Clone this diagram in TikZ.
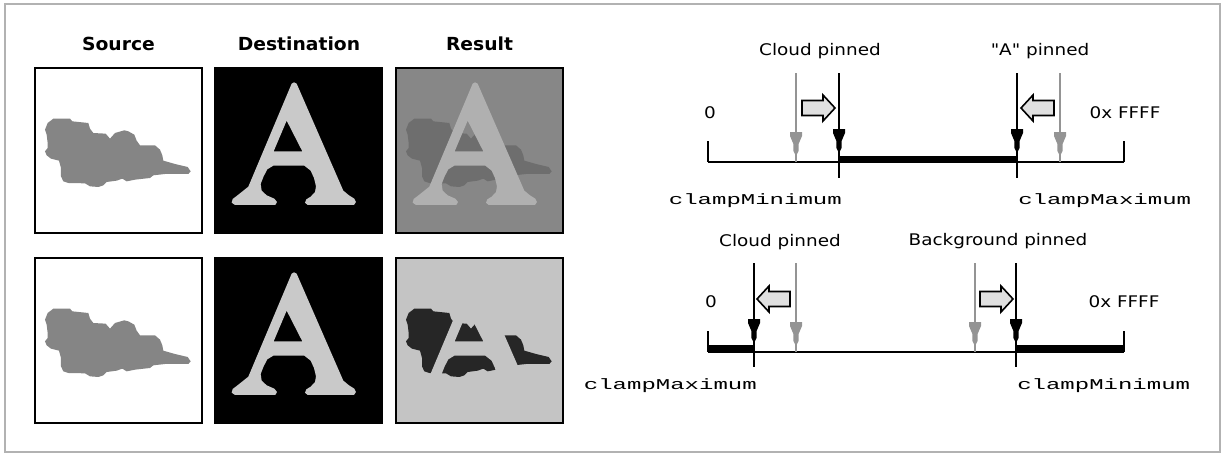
\documentclass[tikz,border=0pt]{standalone}
\usepackage{fontspec}
\usepackage{graphicx}
\newfontfamily\labelfont{DejaVu Sans}
\newfontfamily\codefont{Liberation Mono}
\newcommand\stretchsans[1]{\scalebox{1.15}[1]{#1}}
\newcommand\stretchcode[1]{\scalebox{1.6}[1]{#1}}
\newcommand\stretchhead[1]{\scalebox{1.04}[1]{#1}}

\definecolor{framegray}{gray}{0.70}
\definecolor{cloudgray}{gray}{0.52}
\definecolor{glyphgray}{gray}{0.79}
\definecolor{mixbg}{gray}{0.53}
\definecolor{mixcloud}{gray}{0.43}
\definecolor{mixglyph}{gray}{0.69}
\definecolor{lightbg}{gray}{0.77}
\definecolor{darkcloud}{gray}{0.15}
\definecolor{pingray}{gray}{0.58}
\definecolor{blockfill}{gray}{0.88}

\tikzset{
  panel/.style={draw=black, line width=1.5pt},
  head/.style={font=\labelfont\bfseries\fontsize{13.5}{16}\selectfont, inner sep=0pt},
  lbl/.style={font=\labelfont\fontsize{12}{14}\selectfont, inner sep=0pt},
  code/.style={font=\codefont\fontsize{11.25}{13}\selectfont, inner sep=0pt},
  axisline/.style={draw=black, line width=0.9pt},
  blackpin/.style={draw=black, line width=0.9pt},
  graypin/.style={draw=pingray, line width=0.9pt},
  bar/.style={fill=black},
  % a cloud outline, in units of a third of a pixel, from the panel corner
  pics/cloud/.style={code={
    \fill[#1, scale=0.3333]
      (30,185) -- (38,165) -- (55,152) -- (105,152) -- (112,160) -- (160,165)
      -- (165,182) -- (175,195) -- (212,197) -- (225,212) -- (240,195)
      -- (268,187) -- (280,190) -- (298,200) -- (305,218) -- (315,232)
      -- (360,232) -- (375,245) -- (382,262) -- (385,278) -- (420,288)
      -- (458,297) -- (467,310) -- (460,318) -- (390,318) -- (355,322)
      -- (345,330) -- (300,335) -- (275,340) -- (262,332) -- (245,338)
      -- (215,342) -- (205,352) -- (190,357) -- (165,355) -- (150,346)
      -- (100,345) -- (85,340) -- (78,325) -- (78,300) -- (72,278)
      -- (48,272) -- (35,262) -- (30,250) -- (38,240) -- (38,225)
      -- (35,200) -- cycle;
  }},
  % a serif capital A with its counter
  pics/letterA/.style={code={
    \fill[#1, even odd rule, scale=0.3333]
      (230,47) -- (237,43) -- (245,47) -- (385,368) -- (402,382) -- (418,392)
      -- (423,402) -- (417,411) -- (278,411) -- (270,404) -- (274,394)
      -- (287,386) -- (300,372) -- (303,355) -- (297,330) -- (287,308)
      -- (268,293) -- (175,293) -- (157,304) -- (146,325) -- (137,348)
      -- (140,368) -- (155,382) -- (178,392) -- (186,402) -- (181,411)
      -- (60,411) -- (50,404) -- (53,393) -- (70,380) -- (100,356) -- cycle
      (215,158) -- (262,250) -- (176,250) -- cycle;
  }},
  % the head of a pin, its top at the origin
  pics/pinhead/.style={code={
    \fill[#1] (-6,0) -- (6,0) -- (6,4) -- (2.6,12) -- (2.6,19) -- (0,24)
      -- (-2.6,19) -- (-2.6,12) -- (-6,4) -- cycle;
  }},
  % a hollow block arrow pointing right, its tip at the origin
  pics/blockarrow/.style={code={
    \draw[line width=1.2pt, fill=blockfill, line join=miter]
      (0,0) -- (-12,-13) -- (-12,-7.5) -- (-33,-7.5) -- (-33,7.5)
      -- (-12,7.5) -- (-12,13) -- cycle;
  }},
}

\begin{document}
\begin{tikzpicture}[x=0.75pt, y=-0.75pt]
\useasboundingbox (0,0) rectangle (1224,454);
\draw[framegray, line width=1.5pt] (5,4) rectangle (1220,452);

% column headings
\node[head] (hsource) at (118.5,44) {\stretchhead{Source}};
\node[head] (hdest)   at (299,44)   {\stretchhead{Destination}};
\node[head] (hresult) at (479.5,44) {\stretchhead{Result}};

% top row
\fill[white] (35,68) rectangle (202,233);
\pic at (35,68) {cloud=cloudgray};
\draw[panel] (35,68) rectangle (202,233);

\fill[black] (215,68) rectangle (382,233);
\pic at (215,68) {letterA=glyphgray};
\draw[panel] (215,68) rectangle (382,233);

\fill[mixbg] (396,68) rectangle (563,233);
\pic at (396,68) {cloud=mixcloud};
\pic at (396,68) {letterA=mixglyph};
\draw[panel] (396,68) rectangle (563,233);

% bottom row
\fill[white] (35,258) rectangle (202,423);
\pic at (35,258) {cloud=cloudgray};
\draw[panel] (35,258) rectangle (202,423);

\fill[black] (215,258) rectangle (382,423);
\pic at (215,258) {letterA=glyphgray};
\draw[panel] (215,258) rectangle (382,423);

\fill[lightbg] (396,258) rectangle (563,423);
\pic at (396,258) {cloud=darkcloud};
\pic at (396,258) {letterA=lightbg};
\draw[panel] (396,258) rectangle (563,423);

% ---------- upper scale: clampMinimum < clampMaximum ----------
\coordinate (a1l) at (708,162);
\coordinate (a1r) at (1124,162);
\coordinate (t1l) at (708,141);
\coordinate (t1r) at (1124,141);
\coordinate (g1t) at (796,73);  \coordinate (g1b) at (796,162);
\coordinate (k1t) at (839,73);  \coordinate (k1b) at (839,178);
\coordinate (k2t) at (1017,73); \coordinate (k2b) at (1017,178);
\coordinate (g2t) at (1060,73); \coordinate (g2b) at (1060,162);

\fill[bar] (839,156) rectangle (1017,162);
\draw[axisline] (a1l) -- (a1r);
\draw[axisline] (t1l) -- (a1l);
\draw[axisline] (t1r) -- (a1r);
\draw[graypin] (g1t) -- (g1b);
\draw[graypin] (g2t) -- (g2b);
\draw[blackpin] (k1t) -- (k1b);
\draw[blackpin] (k2t) -- (k2b);
\pic at (796,132) {pinhead=pingray};
\pic at (1060,132) {pinhead=pingray};
\pic at (839,129) {pinhead=black};
\pic at (1017,129) {pinhead=black};
\pic at (835,108) {blockarrow};
\pic[xscale=-1] at (1021,108) {blockarrow};

\node[lbl] (cloud1) at (820,51) {\stretchsans{Cloud pinned}};
\node[lbl] (apin1) at (1040,51) {\stretchsans{"A" pinned}};
\node[lbl] (zero1) at (710,113) {\stretchsans{0}};
\node[lbl] (ffff1) at (1125,113) {\stretchsans{0x FFFF}};
\node[code, anchor=east] (cmin1) at (842,201) {\stretchcode{clampMinimum}};
\node[code, anchor=west] (cmax1) at (1018,201) {\stretchcode{clampMaximum}};

% ---------- lower scale: clampMaximum < clampMinimum ----------
\coordinate (a2l) at (708,352);
\coordinate (a2r) at (1124,352);
\coordinate (t2l) at (708,331);
\coordinate (t2r) at (1124,331);
\coordinate (k3t) at (754,263);  \coordinate (k3b) at (754,367);
\coordinate (g3t) at (796,263);  \coordinate (g3b) at (796,352);
\coordinate (g4t) at (975,263);  \coordinate (g4b) at (975,352);
\coordinate (k4t) at (1016,263); \coordinate (k4b) at (1016,367);

\fill[bar] (708,345) rectangle (754,352);
\fill[bar] (1016,345) rectangle (1124,352);
\draw[axisline] (a2l) -- (a2r);
\draw[axisline] (t2l) -- (a2l);
\draw[axisline] (t2r) -- (a2r);
\draw[graypin] (g3t) -- (g3b);
\draw[graypin] (g4t) -- (g4b);
\draw[blackpin] (k3t) -- (k3b);
\draw[blackpin] (k4t) -- (k4b);
\pic at (796,322) {pinhead=pingray};
\pic at (975,322) {pinhead=pingray};
\pic at (754,319) {pinhead=black};
\pic at (1016,319) {pinhead=black};
\pic[xscale=-1] at (757,299) {blockarrow};
\pic at (1013,299) {blockarrow};

\node[lbl] (cloud2) at (780,242) {\stretchsans{Cloud pinned}};
\node[lbl] (bgpin2) at (998,241) {\stretchsans{Background pinned}};
\node[lbl] (zero2) at (711,302) {\stretchsans{0}};
\node[lbl] (ffff2) at (1124,302) {\stretchsans{0x FFFF}};
\node[code, anchor=east] (cmax2) at (757,386) {\stretchcode{clampMaximum}};
\node[code, anchor=west] (cmin2) at (1017,386) {\stretchcode{clampMinimum}};
\end{tikzpicture}
\end{document}
